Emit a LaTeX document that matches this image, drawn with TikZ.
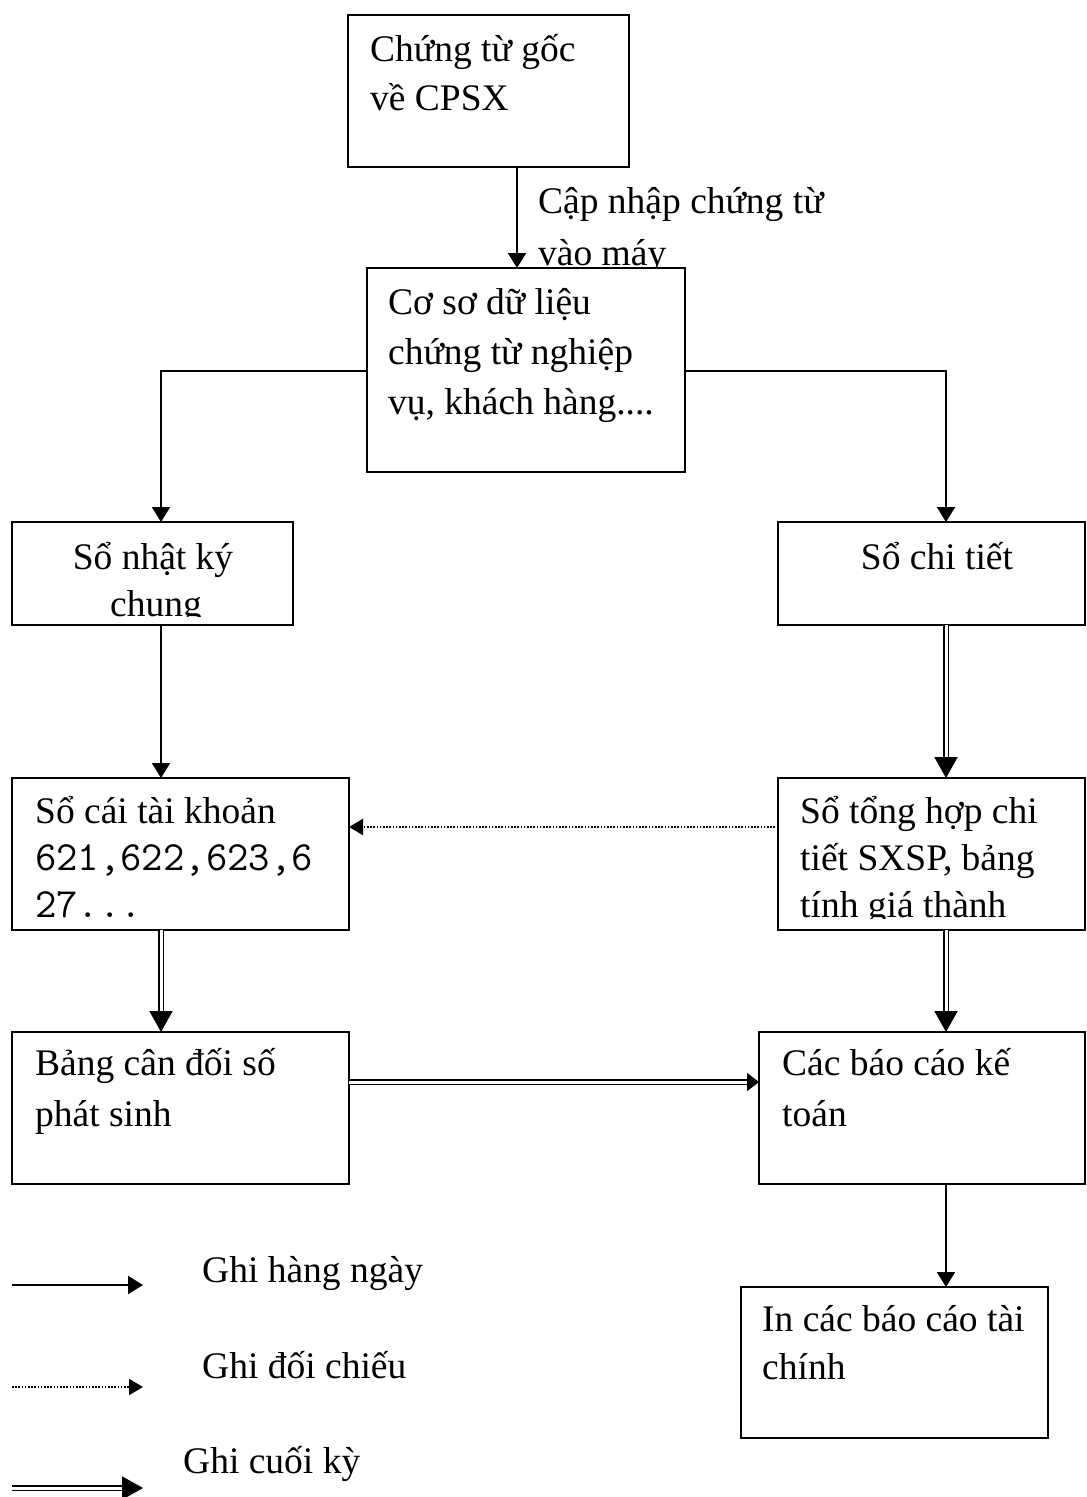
\documentclass[tikz,border=0pt]{standalone}
\usepackage{fontspec}
\setmainfont{Liberation Serif}
\usetikzlibrary{arrows.meta,calc}
\newcommand\stk[2][50pt]{\vtop{\baselineskip=#1\relax #2}}
\tikzset{
  box/.style={draw, line width=1.9pt, inner sep=0pt, outer sep=0pt},
  txt/.style={inner sep=0pt, anchor=base west, font=\fontsize{37.5}{50}\selectfont},
  ctxt/.style={inner sep=0pt, anchor=base, font=\fontsize{37.5}{50}\selectfont},
  monotxt/.style={font=\fontsize{41.5}{47}\ttfamily},
  arr/.style={line width=2pt, -{Triangle[length=15pt,width=18pt]}},
  dotarr/.style={line width=2pt, dash pattern=on 1.6pt off 1.6pt, -{Triangle[length=14pt,width=16pt]}},
  dblarr/.style={line width=1.9pt, double, double distance=3pt, -{Triangle[length=21pt,width=23pt]}},
  dblarrs/.style={line width=1.9pt, double, double distance=3pt, -{Triangle[length=12pt,width=18pt]}},
}
\begin{document}
\begin{tikzpicture}[x=1pt,y=-1pt]
\useasboundingbox[fill=white] (0,0) rectangle (1087,1497);
% boxes
\node[box, minimum width=281pt, minimum height=152pt] (b1) at (488.5,91) {};
\node[box, minimum width=318pt, minimum height=204pt] (b2) at (526,370) {};
\node[box, minimum width=281pt, minimum height=103pt] (b3) at (152.5,573.5) {};
\node[box, minimum width=307pt, minimum height=103pt] (b4) at (931.5,573.5) {};
\node[box, minimum width=337pt, minimum height=152pt] (b5) at (180.5,854) {};
\node[box, minimum width=307pt, minimum height=152pt] (b6) at (931.5,854) {};
\node[box, minimum width=337pt, minimum height=152pt] (b7) at (180.5,1108) {};
\node[box, minimum width=326pt, minimum height=152pt] (b8) at (922,1108) {};
\node[box, minimum width=307pt, minimum height=151pt] (b9) at (894.5,1362.5) {};
% texts
\node[txt] (t1) at (370,61) {\stk[49pt]{\hbox{Chứng từ gốc}\hbox{về CPSX}}};
\begin{scope}
  \clip (530,170) rectangle (900,267);
  \node[txt] (t0) at (538,213) {\stk[52pt]{\hbox{Cập nhập chứng từ}\hbox{vào máy}}};
\end{scope}
\node[txt] (t2) at (388,314) {\stk[50pt]{\hbox{Cơ sơ dữ liệu}\hbox{chứng từ nghiệp}\hbox{vụ, khách hàng....}}};
\begin{scope}
  \clip (14,524) rectangle (291,616);
  \node[ctxt] (t3a) at (153,569) {Sổ nhật ký};
  \node[ctxt] (t3b) at (156,616) {chung};
\end{scope}
\node[ctxt] (t4) at (937,569) {Sổ chi tiết};
\node[txt] (t5) at (35,823) {\stk[47pt]{\hbox{Sổ cái tài khoản}\hbox{\fontsize{41.5}{47}\ttfamily 621,622,623,6}\hbox{\fontsize{41.5}{47}\ttfamily 27...}}};
\begin{scope}
  \clip (780,780) rectangle (1085,918);
  \node[txt] (t6) at (800,823) {\stk[47pt]{\hbox{Sổ tổng hợp chi}\hbox{tiết SXSP, bảng}\hbox{tính giá thành}}};
\end{scope}
\node[txt] (t7) at (35,1075) {\stk[51pt]{\hbox{Bảng cân đối số}\hbox{phát sinh}}};
\node[txt] (t8) at (782,1075) {\stk[51pt]{\hbox{Các báo cáo kế}\hbox{toán}}};
\node[txt] (t9) at (762,1331) {\stk[48pt]{\hbox{In các báo cáo tài}\hbox{chính}}};
% connector columns
\coordinate (cx1) at (517,0);
\coordinate (lx) at (161,371);
\coordinate (rx) at (946,371);
\coordinate (dy) at (0,827);
\coordinate (hy) at (0,1082);
% connectors
\draw[arr] (b1.south -| cx1) -- (b2.north -| cx1);
\draw[arr] (b2.west |- lx) -| (b3.north -| lx);
\draw[arr] (b2.east |- rx) -| (b4.north -| rx);
\draw[arr] (b3.south -| lx) -- (b5.north -| lx);
\draw[dblarr] (b4.south -| rx) -- (b6.north -| rx);
\draw[dotarr] ($(b6.west |- dy)+(-3,0)$) -- (b5.east |- dy);
\draw[dblarr] (b5.south -| lx) -- (b7.north -| lx);
\draw[dblarr] (b6.south -| rx) -- (b8.north -| rx);
\draw[dblarrs] (b7.east |- hy) -- (b8.west |- hy);
\draw[arr] (b8.south -| rx) -- (b9.north -| rx);
% legend
\coordinate (l1a) at (12,1285); \coordinate (l1b) at (143,1285);
\coordinate (l2a) at (12,1387); \coordinate (l2b) at (143,1387);
\coordinate (l3a) at (12,1488); \coordinate (l3b) at (143,1488);
\draw[arr] (l1a) -- (l1b);
\draw[dotarr] (l2a) -- (l2b);
\draw[dblarr] (l3a) -- (l3b);
\node[txt] (g1) at (202,1282) {Ghi hàng ngày};
\node[txt] (g2) at (202,1378) {Ghi đối chiếu};
\node[txt] (g3) at (183,1473) {Ghi cuối kỳ};
\end{tikzpicture}
\end{document}
